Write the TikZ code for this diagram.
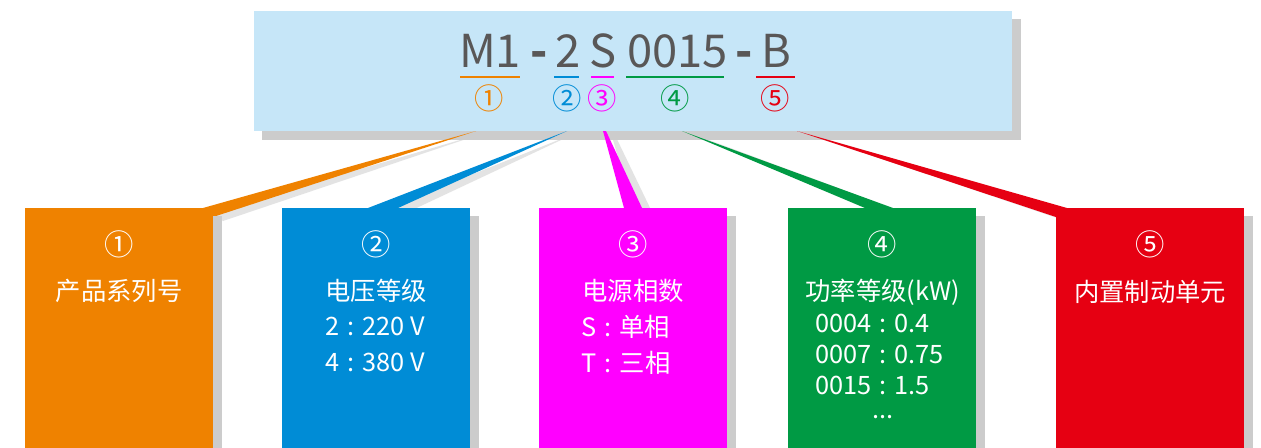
\documentclass[tikz,border=0pt]{standalone}
\usepackage{fontspec}
\setmainfont{Noto Sans CJK SC}
\usetikzlibrary{calc}
\definecolor{topbg}{RGB}{198,230,248}
\definecolor{shadowgray}{RGB}{204,204,204}
\definecolor{codegray}{RGB}{89,87,87}
\definecolor{corange}{RGB}{239,130,0}
\definecolor{cblue}{RGB}{0,140,214}
\definecolor{cmagenta}{RGB}{255,0,255}
\definecolor{cgreen}{RGB}{0,154,68}
\definecolor{cred}{RGB}{230,0,18}
\newcommand{\sepc}{\hspace{0.32em}:\hspace{0.32em}}
\tikzset{
  codetext/.style={anchor=base,inner sep=0pt,text=codegray,font=\fontsize{34pt}{36pt}\selectfont},
  dashtext/.style={anchor=base,inner sep=0pt,text=codegray,font=\fontsize{34pt}{36pt}\selectfont\bfseries},
  circnum/.style={inner sep=0pt,font=\fontsize{22pt}{24pt}\selectfont},
  underl/.style={line width=1.5pt},
  catbox/.style={anchor=north,minimum width=141pt,minimum height=200pt,inner sep=0pt,draw=none},
  boxshadow/.style={fill=shadowgray},
  wedgeshadow/.style={fill=shadowgray,opacity=0.55},
  boxtext/.style={inner sep=0pt,text=white,font=\fontsize{19pt}{22pt}\selectfont},
  boxnum/.style={inner sep=0pt,text=white,font=\fontsize{22pt}{24pt}\selectfont},
}
\begin{document}
\begin{tikzpicture}[x=0.75pt,y=-0.75pt]
\useasboundingbox (0,0) rectangle (1261,447);
\fill[white] (0,0) rectangle (1261,447);

% top box
\fill[shadowgray] (262,19) rectangle (1021,140);
\node[fill=topbg,minimum width=568.5pt,minimum height=90pt,inner sep=0pt] (top) at (633,71) {};

\node[codetext] (m1) at (490,67) {M1};
\node[dashtext] (d1) at (539.5,67) {-};
\node[codetext] (v) at (568,67) {2};
\node[codetext] (ph) at (603.5,67) {S};
\node[codetext] (pw) at (677.5,67) {0015};
\node[dashtext] (d2) at (744.5,67) {-};
\node[codetext] (br) at (776,67) {B};

\coordinate (u1a) at (460,76.5); \coordinate (u1b) at (520,76.5);
\coordinate (u2a) at (554,76.5); \coordinate (u2b) at (579,76.5);
\coordinate (u3a) at (591,76.5); \coordinate (u3b) at (614,76.5);
\coordinate (u4a) at (626,76.5); \coordinate (u4b) at (724,76.5);
\coordinate (u5a) at (756,76.5); \coordinate (u5b) at (795,76.5);
\draw[underl,corange] (u1a) -- (u1b);
\draw[underl,cblue] (u2a) -- (u2b);
\draw[underl,cmagenta] (u3a) -- (u3b);
\draw[underl,cgreen] (u4a) -- (u4b);
\draw[underl,cred] (u5a) -- (u5b);

\node[circnum,text=corange] (c1) at (489,98) {①};
\node[circnum,text=cblue] (c2) at (567,98) {②};
\node[circnum,text=cmagenta] (c3) at (602,98) {③};
\node[circnum,text=cgreen] (c4) at (675,98) {④};
\node[circnum,text=cred] (c5) at (775,98) {⑤};

% wedge shadows
\fill[wedgeshadow] (484,133) -- (213,212) -- (223,221) -- cycle;
\fill[wedgeshadow] (576,133) -- (378,212) -- (408,212) -- cycle;
\fill[wedgeshadow] (611,133) -- (614,133) -- (652,212) -- (634,212) -- cycle;
\fill[wedgeshadow] (690,133) -- (875,212) -- (903,212) -- cycle;
\fill[wedgeshadow] (805,133) -- (1077,212) -- (1066,221) -- cycle;
% wedges
\fill[corange] (476,131) -- (203,208) -- (213,217) -- cycle;
\fill[cblue] (567,131) -- (368,208) -- (398,208) -- cycle;
\fill[cmagenta] (603,131) -- (606,131) -- (642,208) -- (624,208) -- cycle;
\fill[cgreen] (682,131) -- (865,208) -- (893,208) -- cycle;
\fill[cred] (797,131) -- (1067,208) -- (1056,217) -- cycle;

% bottom box shadows
\fill[boxshadow] (213,216) rectangle (222,460);
\fill[boxshadow] (470,216) rectangle (479,460);
\fill[boxshadow] (727,216) rectangle (736,460);
\fill[boxshadow] (976,216) rectangle (985,460);
\fill[boxshadow] (1244,216) rectangle (1253,460);

% bottom boxes
\node[catbox,fill=corange] (b1) at (119,208) {};
\node[catbox,fill=cblue] (b2) at (376,208) {};
\node[catbox,fill=cmagenta] (b3) at (633,208) {};
\node[catbox,fill=cgreen] (b4) at (882,208) {};
\node[catbox,fill=cred] (b5) at (1150,208) {};

% box texts
\node[boxnum] (n1) at (119,244) {①};
\node[boxtext] (h1) at (119,291) {产品系列号};

\node[boxnum] (n2) at (376,244) {②};
\node[boxtext] (h2) at (376,291) {电压等级};
\node[boxtext] (l21) at (375,326) {2\sepc 220 V};
\node[boxtext] (l22) at (375,362) {4\sepc 380 V};

\node[boxnum] (n3) at (633,244) {③};
\node[boxtext] (h3) at (633,291) {电源相数};
\node[boxtext,anchor=west] (l31) at (581,327) {S\sepc 单相};
\node[boxtext,anchor=west] (l32) at (581,363) {T\sepc 三相};

\node[boxnum] (n4) at (882,244) {④};
\node[boxtext] (h4) at (883,292) {功率等级(kW)};
\node[boxtext,anchor=west] (l41) at (815,323) {0004\sepc 0.4};
\node[boxtext,anchor=west] (l42) at (815,354) {0007\sepc 0.75};
\node[boxtext,anchor=west] (l43) at (815,385) {0015\sepc 1.5};
\node[boxtext,anchor=base] (l44) at (883,418) {...};

\node[boxnum] (n5) at (1150,244) {⑤};
\node[boxtext] (h5) at (1150,292) {内置制动单元};
\end{tikzpicture}
\end{document}
